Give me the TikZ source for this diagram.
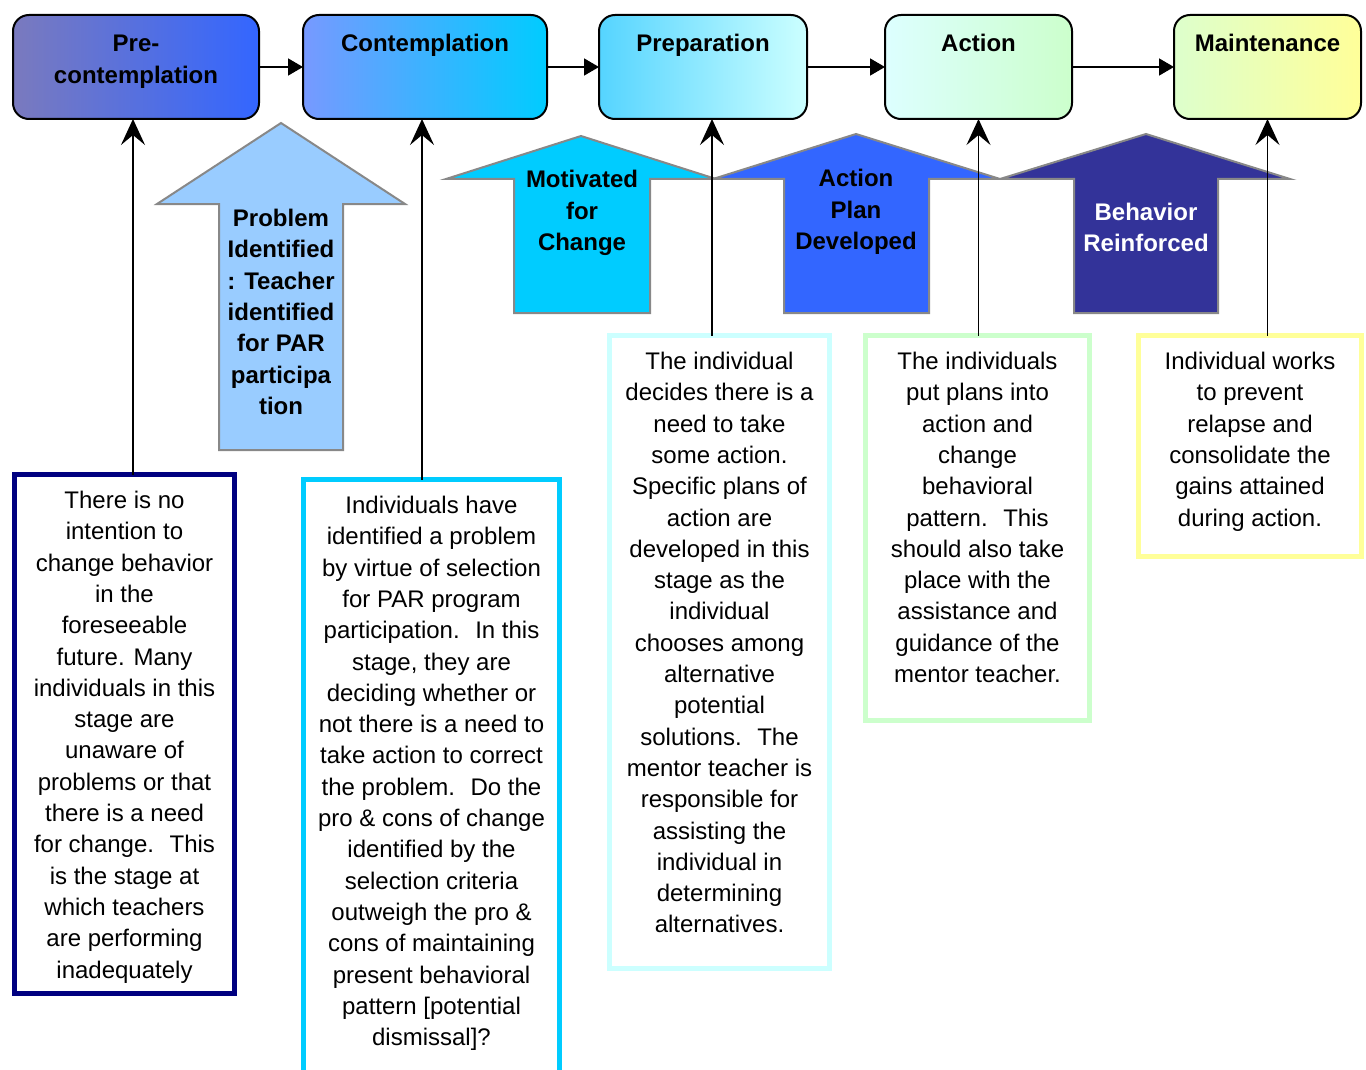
\documentclass[tikz,border=0pt]{standalone}
\usepackage{fontspec}
\setmainfont{Liberation Sans}
\usetikzlibrary{arrows.meta}

\definecolor{preL}{RGB}{122,122,190}
\definecolor{preR}{RGB}{51,102,255}
\definecolor{conL}{RGB}{119,153,255}
\definecolor{conR}{RGB}{0,204,255}
\definecolor{prpL}{RGB}{85,212,255}
\definecolor{prpR}{RGB}{204,255,255}
\definecolor{actL}{RGB}{221,255,255}
\definecolor{actR}{RGB}{204,255,204}
\definecolor{mntL}{RGB}{221,255,204}
\definecolor{mntR}{RGB}{255,255,153}
\definecolor{navyline}{RGB}{0,0,128}
\definecolor{skyline}{RGB}{0,204,255}
\definecolor{paleline}{RGB}{204,255,255}
\definecolor{mintline}{RGB}{204,255,204}
\definecolor{lemonline}{RGB}{255,255,153}
\definecolor{probfill}{RGB}{153,204,255}
\definecolor{motivfill}{RGB}{0,204,255}
\definecolor{planfill}{RGB}{51,102,255}
\definecolor{reinffill}{RGB}{51,51,153}
\definecolor{arrowedge}{RGB}{136,136,136}

\newcommand{\stagetext}[2]{\parbox[c][52pt][t]{#1}{\centering\rule{0pt}{18.5pt}#2}}
\newcommand{\desctext}[3]{\parbox[c][#1][t]{#2}{\centering\rule{0pt}{17pt}#3}}

\tikzset{
  stage/.style={draw, line width=1pt, rounded corners=8pt, inner sep=0pt, outer sep=0pt,
    font=\fontsize{12}{15.65}\selectfont\bfseries},
  desc/.style={draw, line width=2.5pt, inner sep=0pt, outer sep=0pt,
    font=\fontsize{12}{15.65}\selectfont},
  flow/.style={line width=0.8pt, -{Triangle[length=7.5pt,width=8.5pt]}},
  link/.style={line width=0.8pt, -{Stealth[length=13pt,width=12pt,inset=5pt]}},
  bigarrow/.style={draw=arrowedge, line width=1pt},
  arrowtext/.style={align=center, inner sep=0pt, font=\fontsize{12}{15.65}\selectfont\bfseries}
}

\begin{document}
\begin{tikzpicture}[x=0.5pt, y=-0.5pt]
	\useasboundingbox (0,0) rectangle (1366,1070);
	
	% the five stages
	\node[stage, left color=preL, right color=preR] (pre) at (136,67) {\stagetext{123pt}{Pre-\\contemplation}};
	\node[stage, left color=conL, right color=conR] (cont) at (425,67) {\stagetext{122pt}{Contemplation}};
	\node[stage, left color=prpL, right color=prpR] (prep) at (703,67) {\stagetext{104pt}{Preparation}};
	\node[stage, left color=actL, right color=actR] (act) at (978.5,67) {\stagetext{93.5pt}{Action}};
	\node[stage, left color=mntL, right color=mntR] (maint) at (1267.5,67) {\stagetext{93.5pt}{Maintenance}};
	
	\draw[flow] (pre.east) -- (cont.west);
	\draw[flow] (cont.east) -- (prep.west);
	\draw[flow] (prep.east) -- (act.west);
	\draw[flow] (act.east) -- (maint.west);
	
	% block arrows
	\filldraw[bigarrow, fill=probfill] (281,123) -- (405,204) -- (343,204) -- (343,450) -- (219,450) -- (219,204) -- (157,204) -- cycle;
	\filldraw[bigarrow, fill=motivfill] (581,136) -- (716,179) -- (650,179) -- (650,313) -- (514,313) -- (514,179) -- (446,179) -- cycle;
	\filldraw[bigarrow, fill=planfill] (856,134) -- (1000,179) -- (929,179) -- (929,313) -- (784,313) -- (784,179) -- (713,179) -- cycle;
	\filldraw[bigarrow, fill=reinffill] (1146,134) -- (1290,179) -- (1218,179) -- (1218,313) -- (1074,313) -- (1074,179) -- (1000,179) -- cycle;
	
	\node[arrowtext] (probtext) at (281,312) {Problem\\Identified\\: Teacher\\identified\\for PAR\\participa\\tion};
	\node[arrowtext] (motivtext) at (582,213) {Motivated\\for\\Change};
	\node[arrowtext] (plantext) at (856,212) {Action\\Plan\\Developed};
	\node[arrowtext, text=white] (reinftext) at (1146,227.5) {Behavior\\Reinforced};
	
	% descriptions
	\node[desc, draw=navyline] (d1) at (124.5,734) {\desctext{259.5pt}{110pt}{There is no\\intention to\\change behavior\\in the\\foreseeable\\future. Many\\individuals in this\\stage are\\unaware of\\problems or that\\there is a need\\for change.~ This\\is the stage at\\which teachers\\are performing\\inadequately}};
	\node[desc, draw=skyline] (d2) at (431.5,784.75) {\desctext{305.25pt}{128pt}{Individuals have\\identified a problem\\by virtue of selection\\for PAR program\\participation.~ In this\\stage, they are\\deciding whether or\\not there is a need to\\take action to correct\\the problem.~ Do the\\pro \& cons of change\\identified by the\\selection criteria\\outweigh the pro \&\\cons of maintaining\\present behavioral\\pattern [potential\\dismissal]?}};
	\node[desc, draw=paleline] (d3) at (719.5,652) {\desctext{316.5pt}{110pt}{The individual\\decides there is a\\need to take\\some action.\\Specific plans of\\action are\\developed in this\\stage as the\\individual\\chooses among\\alternative\\potential\\solutions.~ The\\mentor teacher is\\responsible for\\assisting the\\individual in\\determining\\alternatives.}};
	\node[desc, draw=mintline] (d4) at (977.5,528) {\desctext{192.5pt}{112pt}{The individuals\\put plans into\\action and\\change\\behavioral\\pattern.~ This\\should also take\\place with the\\assistance and\\guidance of the\\mentor teacher.}};
	\node[desc, draw=lemonline] (d5) at (1250,446) {\desctext{110.5pt}{111.5pt}{Individual works\\to prevent\\relapse and\\consolidate the\\gains attained\\during action.}};
	
	\draw[link] ([xshift=-1.5pt]pre.south |- d1.north) -- ([xshift=-1.5pt]pre.south);
	\draw[link] ([xshift=-1.5pt]cont.south |- d2.north) -- ([xshift=-1.5pt]cont.south);
	\draw[link] ([xshift=4.5pt]prep.south |- d3.north) -- ([xshift=4.5pt]prep.south);
	\draw[link] (act.south |- d4.north) -- (act.south);
	\draw[link] (maint.south |- d5.north) -- (maint.south);
\end{tikzpicture}
\end{document}
